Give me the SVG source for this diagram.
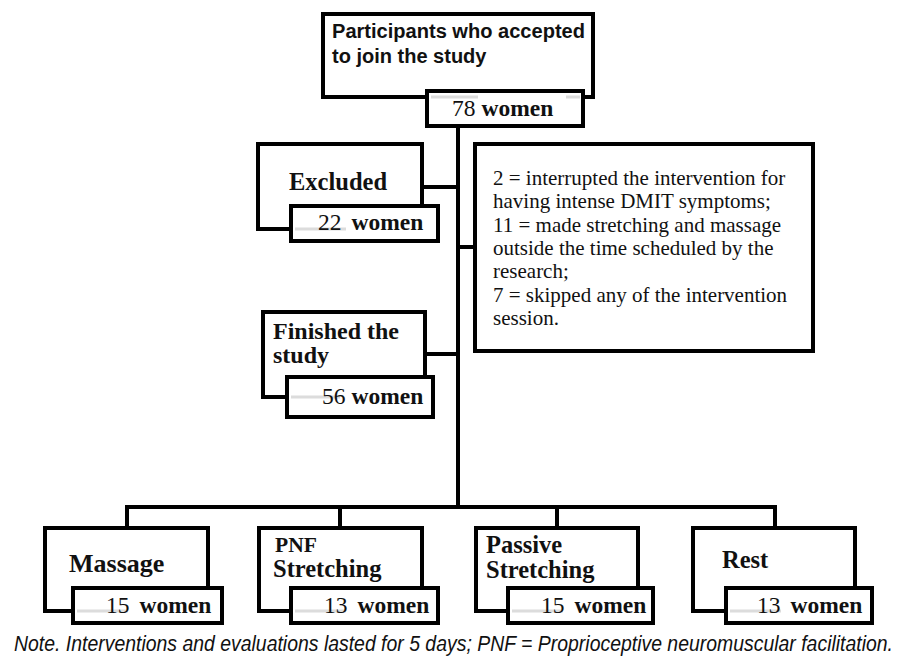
<svg xmlns="http://www.w3.org/2000/svg" width="903" height="658" viewBox="0 0 903 658">
<style>
.box{fill:#fff;stroke:#000;stroke-width:4}
.sub{fill:#fff;stroke:#000;stroke-width:4}
.ghost{stroke:#dcdcdc;stroke-width:3}
.conn{fill:none;stroke:#000;stroke-width:4}
.ttl{font-family:"Liberation Serif","Times New Roman",serif;font-weight:bold;font-size:24.5px;fill:#111}
.hdr{font-family:"Liberation Sans",Arial,sans-serif;font-weight:bold;font-size:20px;fill:#111}
.n{font-family:"Liberation Serif","Times New Roman",serif;font-size:23.5px;fill:#111}
.n tspan.b{font-weight:bold}
.note{font-family:"Liberation Serif","Times New Roman",serif;font-size:21px;fill:#111}
.cap{font-family:"Liberation Sans Narrow","Liberation Sans",Arial,sans-serif;font-style:italic;font-size:18px;fill:#111}
</style>
<rect width="903" height="658" fill="#fff"/>
<g id="connectors">
<path class="conn" d="M458 126V507"/>
<path class="conn" d="M422 187H458"/>
<path class="conn" d="M458 247H475"/>
<path class="conn" d="M425 354H458"/>
<path class="conn" d="M127 528V507H775V528"/>
<path class="conn" d="M340 507V528"/>
<path class="conn" d="M557 507V528"/>
</g>
<g id="participants">
<rect class="box" x="323" y="14" width="270" height="83"/>
<text class="hdr" x="332" y="38"><tspan textLength="253" lengthAdjust="spacingAndGlyphs">Participants who accepted</tspan><tspan x="332" y="63">to join the study</tspan></text>
<rect class="sub" x="427" y="91" width="156" height="35"/>
<path class="ghost" d="M431 97H478M566 97H580"/>
<text class="n" x="452" y="116">78<tspan class="b" dx="6">women</tspan></text>
</g>
<g id="excluded">
<rect class="box" x="258" y="144" width="164" height="85"/>
<text class="ttl" x="289" y="190">Excluded</text>
<rect class="sub" x="291" y="206" width="147" height="35"/>
<path class="ghost" d="M295 229H346"/>
<text class="n" x="318" y="230">22<tspan class="b" dx="10">women</tspan></text>
</g>
<g id="reasons">
<rect class="box" x="475" y="144" width="338" height="207"/>
<text class="note" x="493" y="185">2 = interrupted the intervention for<tspan x="493" y="208.3">having intense DMIT symptoms;</tspan><tspan x="493" y="231.6">11 = made stretching and massage</tspan><tspan x="493" y="255">outside the time scheduled by the</tspan><tspan x="493" y="278.3">research;</tspan><tspan x="493" y="301.6">7 = skipped any of the intervention</tspan><tspan x="493" y="325">session.</tspan></text>
</g>
<g id="finished">
<rect class="box" x="263" y="312" width="162" height="85"/>
<text class="ttl" x="273" y="339" style="font-size:24px">Finished the<tspan x="273" y="363">study</tspan></text>
<rect class="sub" x="287" y="377" width="146" height="40"/>
<path class="ghost" d="M291 397H340"/>
<text class="n" x="322" y="404">56<tspan class="b" dx="6">women</tspan></text>
</g>
<g id="massage">
<rect class="box" x="45" y="528" width="163" height="83"/>
<text class="ttl" x="69" y="572" style="font-size:26px">Massage</text>
<rect class="sub" x="73" y="588" width="149" height="35"/>
<path class="ghost" d="M77 611H128"/>
<text class="n" x="106" y="613">15<tspan class="b" dx="10">women</tspan></text>
</g>
<g id="pnf">
<rect class="box" x="259" y="528" width="163" height="83"/>
<text class="ttl" x="275" y="552"><tspan style="font-size:21.5px">PNF</tspan><tspan x="273" y="577">Stretching</tspan></text>
<rect class="sub" x="291" y="588" width="147" height="35"/>
<path class="ghost" d="M295 611H346"/>
<text class="n" x="324" y="613">13<tspan class="b" dx="10">women</tspan></text>
</g>
<g id="passive">
<rect class="box" x="476" y="528" width="162" height="83"/>
<text class="ttl" x="486" y="553">Passive<tspan x="486" y="578">Stretching</tspan></text>
<rect class="sub" x="508" y="588" width="145" height="35"/>
<path class="ghost" d="M512 611H563"/>
<text class="n" x="541" y="613">15<tspan class="b" dx="10">women</tspan></text>
</g>
<g id="rest">
<rect class="box" x="693" y="528" width="162" height="83"/>
<text class="ttl" x="722" y="568">Rest</text>
<rect class="sub" x="726" y="588" width="146" height="35"/>
<path class="ghost" d="M730 611H781"/>
<text class="n" x="757" y="613">13<tspan class="b" dx="10">women</tspan></text>
</g>
<text class="cap" transform="translate(14 651) scale(1 1.22)" x="0" y="0" textLength="879" lengthAdjust="spacingAndGlyphs">Note. Interventions and evaluations lasted for 5 days; PNF = Proprioceptive neuromuscular facilitation.</text>
</svg>
